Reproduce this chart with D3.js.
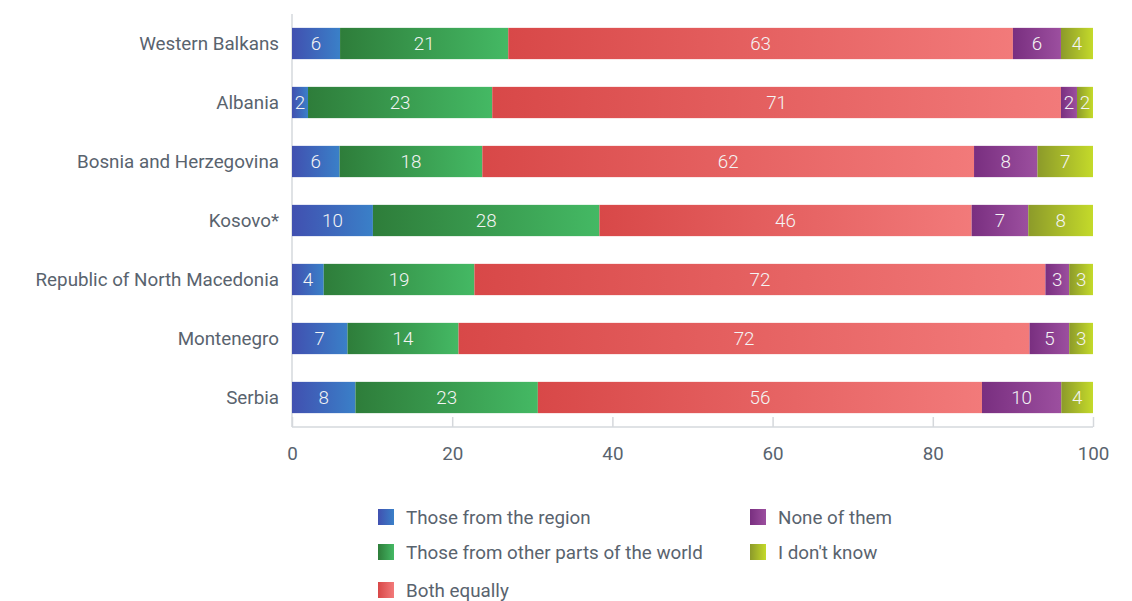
<!DOCTYPE html>
<html><head><meta charset="utf-8">
<script src="https://cdn.jsdelivr.net/npm/d3@7"></script>
<style>
body{margin:0;background:#fff;}
text{font-family:Roboto, "Noto Sans", sans-serif;}
</style></head>
<body><svg id="c" width="1132" height="601"></svg>
<script>
const categories = ["Western Balkans","Albania","Bosnia and Herzegovina","Kosovo*","Republic of North Macedonia","Montenegro","Serbia"];
const seriesNames = ["Those from the region","Those from other parts of the world","Both equally","None of them","I don't know"];
const fromRegion = [6,2,6,10,4,7,8];
const otherParts = [21,23,18,28,19,14,23];
const bothEqually = [63,71,62,46,72,72,56];
const noneOfThem = [6,2,8,7,3,5,10];
const dontKnow = [4,2,7,8,3,3,4];
const xTicks = [0,20,40,60,80,100];
const gradStops = [["#4150b0","#3a80c8"],["#2e7d3a","#44b964"],["#d84848","#f27a7a"],["#792f80","#9c4f9f"],["#8c9a2a","#c4da2a"]];

const seriesValues = [fromRegion, otherParts, bothEqually, noneOfThem, dontKnow];
const rows = categories.map((c,i)=>{const r={cat:c}; seriesNames.forEach((s,j)=>r[s]=seriesValues[j][i]); return r;});

const svg = d3.select("#c");
const defs = svg.append("defs");
gradStops.forEach((g,i)=>{
  const lg = defs.append("linearGradient").attr("id","g"+i).attr("x1","0").attr("x2","1").attr("y1","0").attr("y2","0");
  lg.append("stop").attr("offset","0").attr("stop-color",g[0]);
  lg.append("stop").attr("offset","1").attr("stop-color",g[1]);
});

const FS = 18.8;
const x = d3.scaleLinear().domain([0,100]).range([292,1093]);
const y = d3.scaleBand().domain(categories).range([14,427]).paddingInner(0.47).paddingOuter(0.235);

const stack = d3.stack().keys(seriesNames).offset(d3.stackOffsetExpand);
const stacked = stack(rows);

const textCol = "#59636e";

svg.append("line").attr("x1",292).attr("x2",292).attr("y1",14).attr("y2",427).attr("stroke","#d5d8dc").attr("stroke-width",1.5);

const xa = svg.append("g").attr("transform","translate(0,427)")
  .call(d3.axisBottom(x).tickValues(xTicks).tickSize(0).tickPadding(0).tickFormat(d3.format("d")));
xa.select(".domain").attr("stroke","#d5d8dc").attr("stroke-width",1.5).attr("d","M292,0H1093");
xa.selectAll(".tick line").attr("y1",-10).attr("y2",0).attr("stroke","#d5d8dc").attr("stroke-width",1.5);
xa.selectAll(".tick text").attr("y",26).attr("dy","0.35em").attr("fill",textCol).attr("font-size",FS).attr("font-family","Roboto");

const ya = svg.append("g").attr("transform","translate(292,0)")
  .call(d3.axisLeft(y).tickSize(0).tickPadding(13));
ya.select(".domain").remove();
ya.selectAll(".tick text").attr("fill",textCol).attr("font-size",FS).attr("font-family","Roboto");

stacked.forEach((s,si)=>{
  const g = svg.append("g");
  g.selectAll("rect").data(s).join("rect")
    .attr("x",d=>x(d[0]*100)).attr("width",d=>x(d[1]*100)-x(d[0]*100))
    .attr("y",d=>y(d.data.cat)).attr("height",y.bandwidth())
    .attr("fill","url(#g"+si+")");
  g.selectAll("text").data(s).join("text")
    .attr("x",d=>(x(d[0]*100)+x(d[1]*100))/2)
    .attr("y",d=>y(d.data.cat)+y.bandwidth()/2)
    .attr("dy","0.35em").attr("text-anchor","middle")
    .attr("fill","#f4f4f4").attr("font-size",FS).attr("font-weight",300)
    .text(d=>d.data[s.key]);
});

const legendPos = [[378,517],[378,552],[378,590],[750,517],[750,552]];
seriesNames.forEach((n,i)=>{
  const [lx,ly] = legendPos[i];
  svg.append("rect").attr("x",lx).attr("y",ly-8).attr("width",16).attr("height",16).attr("fill","url(#g"+i+")");
  svg.append("text").attr("x",lx+28).attr("y",ly).attr("dy","0.35em").attr("fill",textCol).attr("font-size",FS).text(n);
});
</script></body></html>
